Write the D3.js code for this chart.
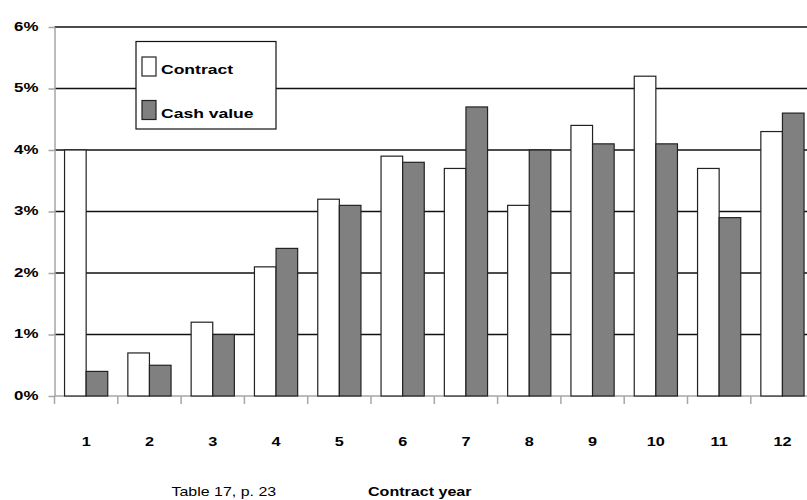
<!DOCTYPE html>
<html>
<head>
<meta charset="utf-8">
<script src="https://cdn.jsdelivr.net/npm/d3@7"></script>
<style>
  html, body { margin: 0; padding: 0; background: #fff; }
  svg { display: block; font-family: "Liberation Sans", Arial, sans-serif; }
</style>
</head>
<body>
<svg id="chart" width="807" height="500"></svg>
<script>
// Contract year categories and the two series (percent)
const years = ["1","2","3","4","5","6","7","8","9","10","11","12"];
const seriesNames = ["Contract", "Cash value"];
const contractValues = [4.0, 0.7, 1.2, 2.1, 3.2, 3.9, 3.7, 3.1, 4.4, 5.2, 3.7, 4.3];
const cashValues     = [0.4, 0.5, 1.0, 2.4, 3.1, 3.8, 4.7, 4.0, 4.1, 4.1, 2.9, 4.6];
const yTicks = [0, 1, 2, 3, 4, 5, 6];
const xTitle = "Contract year";
const sourceNote = "Table 17, p. 23";

const seriesFill = { "Contract": "#ffffff", "Cash value": "#808080" };
const textStretch = 1.3;   // glyphs are drawn wide

const svg = d3.select("#chart");
const plotLeft = 54.5, plotTop = 27, plotBottom = 396, step = 63.3;

const x = d3.scaleBand().domain(years).range([plotLeft, plotLeft + step * years.length]).padding(0);
const xSub = d3.scaleBand().domain(seriesNames).range([0, x.bandwidth()])
  .paddingInner(0).paddingOuter(0.465);
const y = d3.scaleLinear().domain([0, 6]).range([plotBottom, plotTop]);

const rows = years.map((yr, i) => ({ year: yr, "Contract": contractValues[i], "Cash value": cashValues[i] }));

// horizontal gridlines (behind bars)
svg.append("g").selectAll("line").data(yTicks.filter(d => d > 0)).join("line")
  .attr("x1", plotLeft).attr("x2", 807)
  .attr("y1", d => y(d)).attr("y2", d => y(d))
  .attr("stroke", "#111").attr("stroke-width", 1.5);

// y axis
const yAxis = svg.append("g").attr("transform", `translate(${plotLeft},0)`)
  .call(d3.axisLeft(y).tickValues(yTicks).tickFormat(d => d + "%").tickSize(6).tickSizeOuter(0));
yAxis.select(".domain").attr("stroke", "#a6a6a6").attr("stroke-width", 1.5);
yAxis.selectAll(".tick line").attr("stroke", "#a6a6a6").attr("stroke-width", 1.5);
yAxis.selectAll(".tick text")
  .attr("x", 0).attr("dy", "0.25em")
  .attr("transform", `translate(-16,0) scale(${textStretch},1)`)
  .attr("font-size", 13).attr("font-weight", "bold").attr("fill", "#000")
  .attr("font-family", "Liberation Sans, Arial, sans-serif");

// x axis line and ticks at category boundaries
svg.append("line").attr("x1", plotLeft).attr("x2", 807).attr("y1", plotBottom).attr("y2", plotBottom)
  .attr("stroke", "#a6a6a6").attr("stroke-width", 1.5);
svg.append("g").selectAll("line").data(years).join("line")
  .attr("x1", d => x(d)).attr("x2", d => x(d))
  .attr("y1", plotBottom).attr("y2", plotBottom + 8)
  .attr("stroke", "#a6a6a6").attr("stroke-width", 1.5);

// bars
const groups = svg.append("g").selectAll("g").data(rows).join("g")
  .attr("transform", d => `translate(${x(d.year)},0)`);
groups.selectAll("rect").data(d => seriesNames.map(k => ({ key: k, value: d[k] }))).join("rect")
  .attr("x", d => xSub(d.key))
  .attr("width", xSub.bandwidth())
  .attr("y", d => y(d.value))
  .attr("height", d => y(0) - y(d.value))
  .attr("fill", d => seriesFill[d.key])
  .attr("stroke", "#222").attr("stroke-width", 1.2);

// category labels
const xAxis = svg.append("g").attr("transform", `translate(0,${plotBottom})`)
  .call(d3.axisBottom(x).tickSize(0));
xAxis.select(".domain").remove();
xAxis.selectAll(".tick text")
  .attr("y", 0).attr("dy", 0)
  .attr("transform", `translate(0,50) scale(1.25,1)`)
  .attr("font-size", 13).attr("font-weight", "bold").attr("fill", "#000")
  .attr("font-family", "Liberation Sans, Arial, sans-serif");

// legend
const lg = svg.append("g");
lg.append("rect").attr("x", 136).attr("y", 41.5).attr("width", 140).attr("height", 87.5)
  .attr("fill", "#fff").attr("stroke", "#111").attr("stroke-width", 1.2);
const legendRows = [{ key: "Contract", y: 57 }, { key: "Cash value", y: 100.5 }];
legendRows.forEach(r => {
  lg.append("rect").attr("x", 142).attr("y", r.y).attr("width", 14).attr("height", 19)
    .attr("fill", seriesFill[r.key]).attr("stroke", "#222").attr("stroke-width", 1.2);
  lg.append("text").attr("transform", `translate(161,${r.y + 17}) scale(${textStretch},1)`)
    .attr("font-size", 13.5).attr("font-weight", "bold").text(r.key);
});

// axis title and source note
svg.append("text").attr("transform", `translate(368,496) scale(1.34,1)`)
  .attr("font-size", 12).attr("font-weight", "bold").text(xTitle);
svg.append("text").attr("transform", `translate(171.5,496) scale(1.33,1)`)
  .attr("font-size", 12).text(sourceNote);
</script>
</body>
</html>
